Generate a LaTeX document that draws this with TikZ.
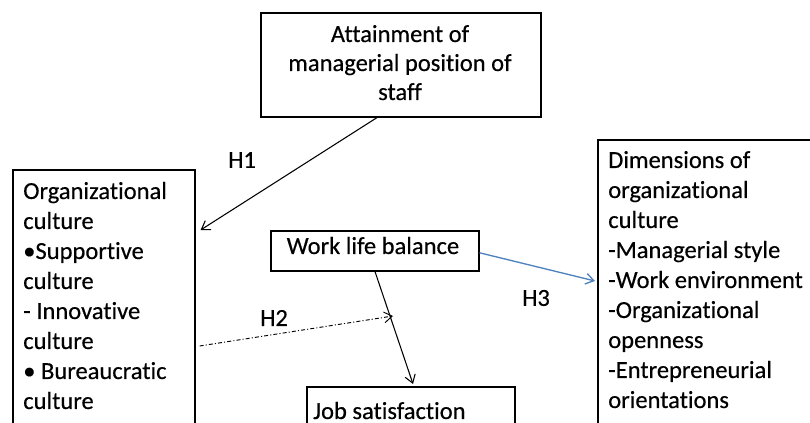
\documentclass[tikz,border=0pt]{standalone}
\usepackage{fontspec}
\setmainfont{Carlito}[Ligatures=NoCommon,FakeBold=0.4]
\usetikzlibrary{arrows.meta,calc}
\definecolor{hblue}{RGB}{79,129,189}
\begin{document}
\begin{tikzpicture}[x=0.75pt,y=-0.75pt,
  box/.style={draw, line width=1.2pt, inner sep=0pt, anchor=north west},
  txt/.style={inner sep=0pt, anchor=base west, font=\fontsize{18.4pt}{22.5pt}\selectfont},
  link/.style={line width=0.8pt, -{Straight Barb[length=6pt,width=8pt]}},
  hyp/.style={inner sep=0pt, font=\fontsize{18.4pt}{22.5pt}\selectfont}]
\useasboundingbox (0,0) rectangle (810,423);
\clip (0,0) rectangle (810,423);
% boxes
\node[box, minimum width=182*0.75pt, minimum height=300*0.75pt] (org) at (12,169) {};
\node[box, minimum width=280*0.75pt, minimum height=104*0.75pt] (att) at (260,12) {};
\node[box, minimum width=208*0.75pt, minimum height=40*0.75pt] (wlb) at (270,230) {};
\node[box, minimum width=208*0.75pt, minimum height=80*0.75pt] (job) at (306,386) {};
\node[box, minimum width=230*0.75pt, minimum height=330*0.75pt] (dim) at (597,139) {};
% texts
\node[txt] (orgt) at (23,199) {\parbox[t]{170pt}{\raggedright Organizational\\culture\\•Supportive\\culture\\- Innovative\\culture\\• Bureaucratic\\culture}};
\node[txt] (dimt) at (608,168) {\parbox[t]{170pt}{\raggedright Dimensions of\\organizational\\culture\\-Managerial style\\-Work environment\\-Organizational\\openness\\-Entrepreneurial\\orientations}};
\node[txt, anchor=base, font=\fontsize{18.4pt}{21.75pt}\selectfont] (attt) at (400,42) {\parbox[t]{200pt}{\centering Attainment of\\managerial position of\\staff}};
\node[txt, anchor=base] (wlbt) at (373,254) {Work life balance};
\node[txt] (jobt) at (313,419) {Job satisfaction};
% hypothesis labels
\node[hyp] (h1) at (242,160) {H1};
\node[hyp] (h2) at (274,318) {H2};
\node[hyp] (h3) at (536,298) {H3};
% connectors
\coordinate (h2end) at (393,316);
\draw[link] ($(att.south west)+(117,0)$) -- ($(org.north east)+(5,61)$);
\draw[link] ($(wlb.south west)+(105,0)$) -- ($(job.north west)+(107,-2)$);
\draw[link, line width=0.7pt, dash pattern=on 3pt off 1.6pt on 0.8pt off 1.6pt] ($(org.north east)+(4,177)$) -- (h2end);
\draw[link, hblue, line width=1pt] ($(wlb.east)+(0,2)$) -- ($(dim.north west)+(-2,142)$);
\end{tikzpicture}
\end{document}
